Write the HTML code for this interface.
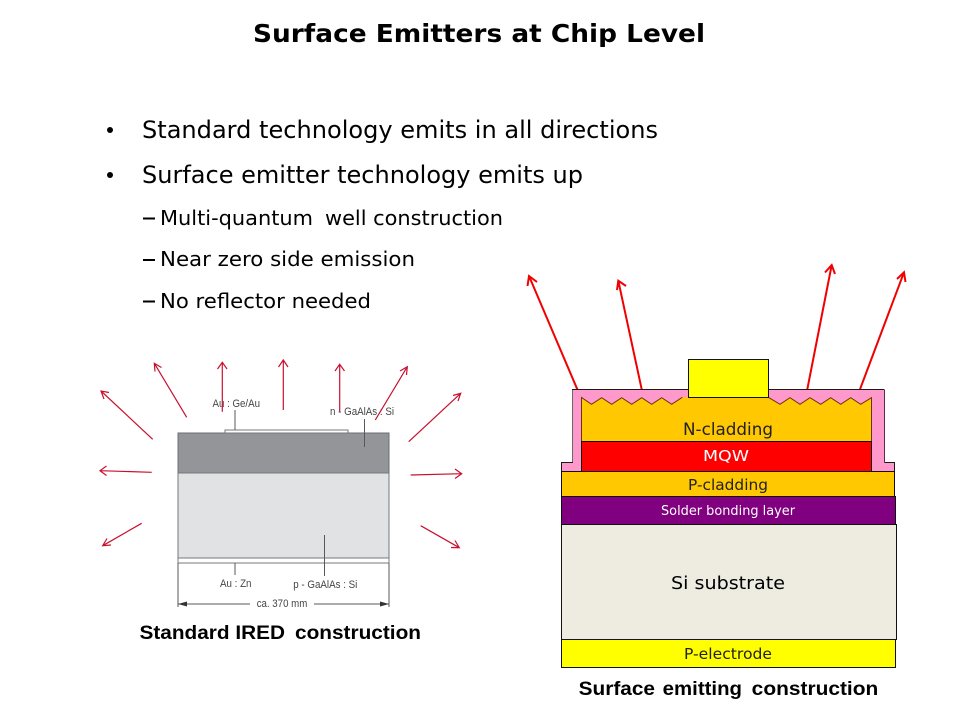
<!DOCTYPE html>
<html>
<head>
<meta charset="utf-8">
<title>Surface Emitters at Chip Level</title>
<style>
html,body{margin:0;padding:0;background:#fff;width:960px;height:720px;overflow:hidden}
svg{display:block}
.v{font-family:"DejaVu Sans","Liberation Sans",sans-serif;fill:#000}
.a{font-family:"Liberation Sans",sans-serif;font-size:19.500px;font-weight:bold;fill:#000}
.l{font-family:"DejaVu Sans","Liberation Sans",sans-serif;fill:#222}
.s{font-family:"Liberation Sans",sans-serif;font-size:11px;fill:#444}
</style>
</head>
<body>
<svg width="960" height="720" viewBox="0 0 960 720" xmlns="http://www.w3.org/2000/svg">
<rect width="960" height="720" fill="#fff"/>

<!-- Title -->
<text class="v" x="253" y="42" font-size="25" font-weight="bold" textLength="452" lengthAdjust="spacingAndGlyphs">Surface Emitters at Chip Level</text>

<!-- Bullets -->
<circle cx="110" cy="130" r="3" fill="#000"/>
<circle cx="110" cy="175" r="3" fill="#000"/>
<text class="v" x="142" y="138" font-size="24" textLength="516" lengthAdjust="spacingAndGlyphs">Standard technology emits in all directions</text>
<text class="v" x="142" y="183" font-size="24" textLength="441" lengthAdjust="spacingAndGlyphs">Surface emitter technology emits up</text>
<rect x="143" y="217.500" width="12" height="2" fill="#000"/>
<rect x="143" y="259" width="12" height="2" fill="#000"/>
<rect x="143" y="300.500" width="12" height="2" fill="#000"/>
<text class="v" x="160" y="225" font-size="20" textLength="153" lengthAdjust="spacingAndGlyphs">Multi-quantum</text>
<text class="v" x="325" y="225" font-size="20" textLength="178" lengthAdjust="spacingAndGlyphs">well construction</text>
<text class="v" x="160" y="266" font-size="20" textLength="255" lengthAdjust="spacingAndGlyphs">Near zero side emission</text>
<text class="v" x="160" y="308" font-size="20" textLength="211" lengthAdjust="spacingAndGlyphs">No reflector needed</text>

<!-- Left chip -->
<rect x="178" y="433" width="211" height="40" fill="#939598" stroke="#6d6e71" stroke-width="1"/>
<rect x="178" y="473" width="211" height="85" fill="#e1e2e3" stroke="#77787b" stroke-width="1"/>
<rect x="178" y="558" width="211" height="5" fill="#fff" stroke="#77787b" stroke-width="1"/>
<rect x="225" y="430" width="123" height="3" fill="#fff" stroke="#77787b" stroke-width="1"/>
<g stroke="#58595b" stroke-width="1" fill="none">
<line x1="235" y1="410" x2="235" y2="430"/>
<line x1="364.500" y1="419" x2="364.500" y2="447"/>
<line x1="235" y1="563" x2="235" y2="575"/>
<line x1="324.500" y1="535" x2="324.500" y2="576"/>
<line x1="178" y1="563" x2="178" y2="607"/>
<line x1="389" y1="563" x2="389" y2="607"/>
<line x1="178" y1="604" x2="250" y2="604"/>
<line x1="314" y1="604" x2="389" y2="604"/>
</g>
<polygon points="178,604 187,601.500 187,606.500" fill="#333"/>
<polygon points="389,604 380,601.500 380,606.500" fill="#333"/>
<text class="s" x="212.500" y="407" textLength="47.500" lengthAdjust="spacingAndGlyphs">Au : Ge/Au</text>
<text class="s" x="330" y="415" textLength="64" lengthAdjust="spacingAndGlyphs">n - GaAlAs : Si</text>
<text class="s" x="220" y="587" textLength="31.500" lengthAdjust="spacingAndGlyphs">Au : Zn</text>
<text class="s" x="293.300" y="588" textLength="64" lengthAdjust="spacingAndGlyphs">p - GaAlAs : Si</text>
<text class="s" x="256.700" y="607" textLength="50.600" lengthAdjust="spacingAndGlyphs">ca. 370 mm</text>

<!-- Left arrows -->
<g stroke="#c8102e" stroke-width="1.200" fill="none">
<path d="M152.700 439.300L101 391M109 392.500L101 391L104 399"/>
<path d="M186.700 417.300L154.300 363.300M161.500 367.500L154.300 363.300L155 371.500"/>
<path d="M222.300 411.700V362.300M217.500 369L222.300 362.300L227 369"/>
<path d="M283.300 410V360M278.500 367L283.300 360L288 367"/>
<path d="M339.700 411.700V364.300M335 371L339.700 364.300L344.500 371"/>
<path d="M375.300 420L407.300 366.700M400 371L407.300 366.700L406.500 375"/>
<path d="M408.700 441.700L460.700 393.300M453 395.500L460.700 393.300L458 401"/>
<path d="M410.700 475L461.700 473.700M455 469L461.700 473.700L455 478.500"/>
<path d="M420.700 525.700L459.300 547.700M451 547.500L459.300 547.700L455 540.500"/>
<path d="M141.700 523.300L102.700 545.700M111 545L102.700 545.700L107 538.500"/>
<path d="M151.700 472.300L100 470.700M106.500 466L100 470.700L106.500 475.500"/>
</g>

<!-- Caption left -->
<text class="a" x="139.500" y="639" textLength="145.500" lengthAdjust="spacingAndGlyphs">Standard IRED</text>
<text class="a" x="295" y="639" textLength="126" lengthAdjust="spacingAndGlyphs">construction</text>

<!-- Right top arrows -->
<g stroke="#f00000" stroke-width="2" fill="none">
<path d="M577.300 389.300L529 276M527.500 286L529 276L537 282"/>
<path d="M641.700 389.300L618.300 280.700M617 290L618.300 280.700L626 286"/>
<path d="M807.300 389.300L831.700 265M825 272.500L831.700 265L835 274"/>
<path d="M860 389.300L904 272.300M897 279L904 272.300L905.500 282"/>
</g>

<!-- Right stack -->
<polygon points="572.500,389.500 884.500,389.500 884.500,462.500 894.500,462.500 894.500,471.500 561.500,471.500 561.500,462.500 572.500,462.500" fill="#ff99cc" stroke="none"/>
<path d="M561.500 471V462.500H572.500V389.500H884.500" fill="none" stroke="#1a1a1a" stroke-width="1"/>
<path d="M572.500 462V390" fill="none" stroke="#6a6a6a" stroke-width="1"/>
<path d="M884.500 390V462.500" fill="none" stroke="#5a2a5a" stroke-width="1"/>
<path d="M884.500 462.500H894.500V471" fill="none" stroke="#1a1a1a" stroke-width="1"/>
<polygon points="581.500,397.500 591.500,404.300 601.700,397.700 611.700,404.300 621.700,397.700 631.700,404.300 641.700,397.700 651.700,404.300 661.700,397.700 671.700,404.300 682.300,397.300 768.300,397.300 780,404.300 790,397.700 800,404.300 810,397.700 820.700,404.300 830.700,397.700 840.700,404.300 850.700,397.700 860.700,404.300 871.500,397.700 871.500,441 581.500,441" fill="#ffc800"/>
<path d="M581.500 441V397.500L591.500 404.300L601.700 397.700L611.700 404.300L621.700 397.700L631.700 404.300L641.700 397.700L651.700 404.300L661.700 397.700L671.700 404.300L682.300 397.300M768.300 397.300L780 404.300L790 397.700L800 404.300L810 397.700L820.700 404.300L830.700 397.700L840.700 404.300L850.700 397.700L860.700 404.300L871.500 397.700V441" fill="none" stroke="#6b3410" stroke-width="1"/>
<rect x="688.500" y="359.500" width="80" height="38" fill="#ffff00" stroke="#111" stroke-width="1"/>
<rect x="581.500" y="441.500" width="290" height="30" fill="#ff0000" stroke="#111" stroke-width="1"/>
<rect x="561.500" y="471.500" width="333" height="25" fill="#ffc800" stroke="#111" stroke-width="1"/>
<rect x="561.500" y="496.500" width="334" height="28" fill="#800080" stroke="#111" stroke-width="1"/>
<rect x="561.500" y="524.500" width="335" height="115" fill="#eeece1" stroke="#111" stroke-width="1"/>
<rect x="561.500" y="639.500" width="334" height="28" fill="#ffff00" stroke="#111" stroke-width="1"/>

<text class="l" x="683" y="435" font-size="17" textLength="90" lengthAdjust="spacingAndGlyphs">N-cladding</text>
<text class="l" x="703" y="461" font-size="15" style="fill:#fff" textLength="46" lengthAdjust="spacingAndGlyphs">MQW</text>
<text class="l" x="688" y="490" font-size="15" textLength="80" lengthAdjust="spacingAndGlyphs">P-cladding</text>
<text class="l" x="661" y="515" font-size="13" style="fill:#fff" textLength="134" lengthAdjust="spacingAndGlyphs">Solder bonding layer</text>
<text class="l" x="671" y="589" font-size="18" style="fill:#000" textLength="114" lengthAdjust="spacingAndGlyphs">Si substrate</text>
<text class="l" x="684" y="659" font-size="15" textLength="88" lengthAdjust="spacingAndGlyphs">P-electrode</text>

<!-- Caption right -->
<text class="a" x="578.700" y="695" textLength="76.300" lengthAdjust="spacingAndGlyphs">Surface</text>
<text class="a" x="662.700" y="695" textLength="79.300" lengthAdjust="spacingAndGlyphs">emitting</text>
<text class="a" x="751.700" y="695" textLength="126.600" lengthAdjust="spacingAndGlyphs">construction</text>
</svg>
</body>
</html>
